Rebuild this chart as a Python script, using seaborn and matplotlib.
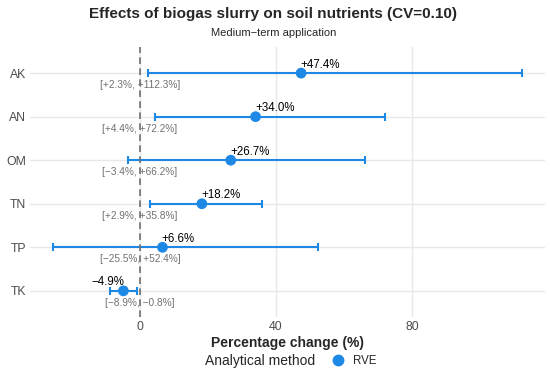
import numpy as np
import pandas as pd
import matplotlib
matplotlib.use("Agg")
import matplotlib.pyplot as plt
import seaborn as sns

# data
nutrients = ["AK", "AN", "OM", "TN", "TP", "TK"]
estimate = [47.4, 34.0, 26.7, 18.2, 6.6, -4.9]
ci_low = [2.3, 4.4, -3.4, 2.9, -25.5, -8.9]
ci_high = [112.3, 72.2, 66.2, 35.8, 52.4, -0.8]
method = ["RVE"] * 6

blue = "#1E88E5"

df = pd.DataFrame({"nutrient": nutrients, "est": estimate,
                   "lo": ci_low, "hi": ci_high, "method": method})

sns.set_theme(style="whitegrid")
plt.rcParams["font.family"] = ["Liberation Sans", "DejaVu Sans"]

fig = plt.figure(figsize=(5.5, 3.75), dpi=100)
ax = fig.add_axes([0.0545, 0.1547, 0.9365, 0.72])

pos = np.arange(len(nutrients))

# zero reference line
ax.axvline(0, color="#6E6E6E", lw=1.2, ls=(0, (4, 2.6)), zorder=4)

# confidence intervals
ax.errorbar(df["est"], pos, xerr=[df["est"] - df["lo"], df["hi"] - df["est"]],
            fmt="none", ecolor=blue, elinewidth=1.5, capsize=2.9, capthick=1.5,
            zorder=3)

sns.scatterplot(data=df, x="est", y="nutrient", hue="method",
                palette=[blue], s=60, linewidth=0, ax=ax, zorder=5)

ax.margins(x=0.05)
ax.set_ylim(len(nutrients) - 0.4, -0.6)

# labels
for i, r in df.iterrows():
    lab = f"{r.est:+.1f}%".replace("-", "\u2212")
    ax.annotate(lab, (r.est, i), xytext=(-0.5 if r.est > 0 else 0.5, 4),
                textcoords="offset points",
                ha="left" if r.est > 0 else "right", va="baseline",
                fontsize=8.3, color="black", zorder=6)
    ci = f"[{r.lo:+.1f}%, {r.hi:+.1f}%]".replace("-", "\u2212")
    ax.annotate(ci, (0, i), xytext=(0, -5), textcoords="offset points",
                ha="center", va="top", fontsize=7.3, color="#707070", zorder=2)

ax.set_xticks([0, 40, 80])
ax.grid(True, color="#E8E8E8", lw=1.0)
ax.set_axisbelow(True)
for s in ax.spines.values():
    s.set_visible(False)
ax.tick_params(axis="both", length=0, labelsize=8.8, colors="#4D4D4D", pad=3)
ax.set_ylabel("")
ax.set_xlabel("Percentage change (%)", fontsize=10, fontweight="bold", labelpad=2)

fig.text(0.497, 0.962, "Effects of biogas slurry on soil nutrients (CV=0.10)",
         ha="center", va="center", fontsize=11, fontweight="bold")
fig.text(0.497, 0.912, "Medium\u2212term application", ha="center",
         va="center", fontsize=8)

h, l = ax.get_legend_handles_labels()
ax.get_legend().remove()
fig.text(0.473, 0.037, "Analytical method", ha="center", va="center", fontsize=10)
fig.legend(h, l, loc="center left", bbox_to_anchor=(0.585, 0.037), frameon=False,
           fontsize=8.3, handletextpad=0.3, markerscale=1.1, borderaxespad=0)

fig.savefig("out.png", dpi=100)
